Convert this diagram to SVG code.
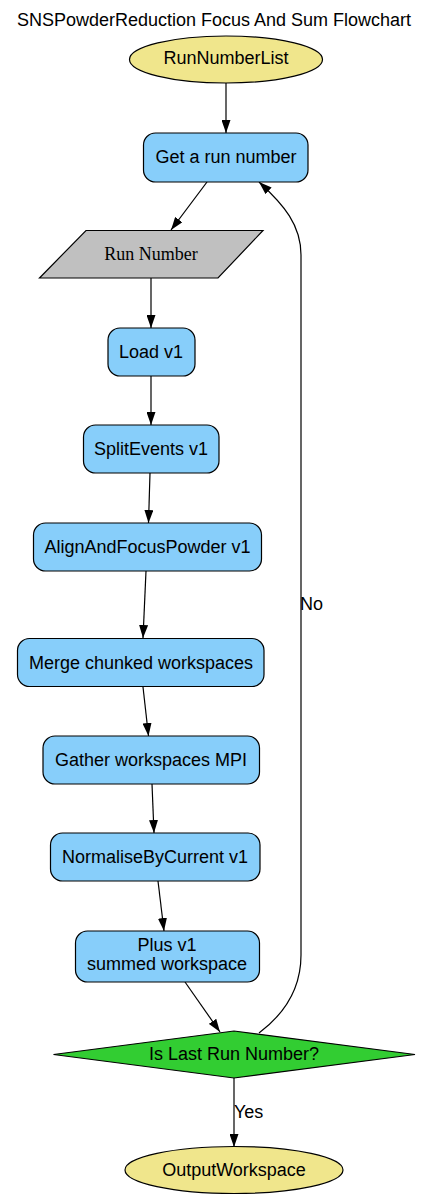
<svg xmlns="http://www.w3.org/2000/svg" width="429" height="1200" viewBox="0 0 429 1200">
<style>
text{font-family:"Liberation Sans",Arial,sans-serif;font-size:18px;fill:#000;text-anchor:middle}
.serif{font-family:"Liberation Serif","Times New Roman",serif}
.proc{fill:#87CEFA;stroke:#000;stroke-width:1.2}
.io{fill:#F0E68C;stroke:#000;stroke-width:1.2}
.edge{fill:none;stroke:#000;stroke-width:1.2}
.lbl{text-anchor:start}
</style>
<defs>
<marker id="arr" viewBox="0 0 13 9" refX="13" refY="4.5" markerWidth="13" markerHeight="9" markerUnits="userSpaceOnUse" orient="auto">
<path d="M0,0 L13,4.5 L0,9 Z" fill="#000"/>
</marker>
</defs>
<rect width="429" height="1200" fill="#fff"/>
<text x="214" y="26">SNSPowderReduction Focus And Sum Flowchart</text>
<g id="connectors">
<path class="edge" d="M226,83 L226,133" marker-end="url(#arr)"/>
<path class="edge" d="M207,182 L171,230" marker-end="url(#arr)"/>
<path class="edge" d="M151,278 L151,328" marker-end="url(#arr)"/>
<path class="edge" d="M151,376 L151,425" marker-end="url(#arr)"/>
<path class="edge" d="M150,473 L148.5,523" marker-end="url(#arr)"/>
<path class="edge" d="M146,571 L143,638" marker-end="url(#arr)"/>
<path class="edge" d="M143,687 L148.5,736" marker-end="url(#arr)"/>
<path class="edge" d="M152,784 L154,833" marker-end="url(#arr)"/>
<path class="edge" d="M158,881 L164,931" marker-end="url(#arr)"/>
<path class="edge" d="M185,982 L220,1032" marker-end="url(#arr)"/>
<path class="edge" d="M234,1078 L234,1147" marker-end="url(#arr)"/>
<path class="edge" d="M259,1033 C283,1015 301,990 301,955 L301,255 C301,225 284,205 259,182" marker-end="url(#arr)"/>
<text class="lbl" x="234" y="1118">Yes</text>
<text class="lbl" x="300" y="610">No</text>
</g>
<g id="RunNumberList">
<ellipse class="io" cx="226" cy="59.5" rx="96.5" ry="23.5"/>
<text x="226" y="64">RunNumberList</text>
</g>
<g id="GetRunNumber">
<rect class="proc" x="143.5" y="133" width="164.5" height="49" rx="12" ry="12"/>
<text x="226" y="163">Get a run number</text>
</g>
<g id="RunNumber">
<polygon points="86,230.5 263,230.5 218,278 39.5,278" fill="#C0C0C0" stroke="#000" stroke-width="1.2"/>
<text class="serif" x="151" y="260">Run Number</text>
</g>
<g id="Load">
<rect class="proc" x="108" y="328" width="87" height="48" rx="12" ry="12"/>
<text x="151" y="358">Load v1</text>
</g>
<g id="SplitEvents">
<rect class="proc" x="83.5" y="425" width="135.5" height="48" rx="12" ry="12"/>
<text x="151" y="455">SplitEvents v1</text>
</g>
<g id="AlignAndFocusPowder">
<rect class="proc" x="33.5" y="523" width="228" height="48" rx="12" ry="12"/>
<text x="147.5" y="553">AlignAndFocusPowder v1</text>
</g>
<g id="Merge">
<rect class="proc" x="17.5" y="638.5" width="246.5" height="48" rx="12" ry="12"/>
<text x="141" y="668.5">Merge chunked workspaces</text>
</g>
<g id="Gather">
<rect class="proc" x="43" y="736" width="216.5" height="48" rx="12" ry="12"/>
<text x="151" y="766">Gather workspaces MPI</text>
</g>
<g id="Normalise">
<rect class="proc" x="50.5" y="833" width="209.5" height="48" rx="12" ry="12"/>
<text x="155" y="863">NormaliseByCurrent v1</text>
</g>
<g id="Plus">
<rect class="proc" x="75.5" y="931" width="184" height="51" rx="12" ry="12"/>
<text x="167" y="951">Plus v1</text>
<text x="167" y="970">summed workspace</text>
</g>
<g id="IsLast">
<polygon points="53.5,1054.5 234,1031 415,1054.5 234,1078" fill="#32CD32" stroke="#000" stroke-width="1.2"/>
<text x="234" y="1060">Is Last Run Number?</text>
</g>
<g id="OutputWorkspace">
<ellipse class="io" cx="234" cy="1170" rx="109" ry="23.5"/>
<text x="234" y="1176">OutputWorkspace</text>
</g>
</svg>
